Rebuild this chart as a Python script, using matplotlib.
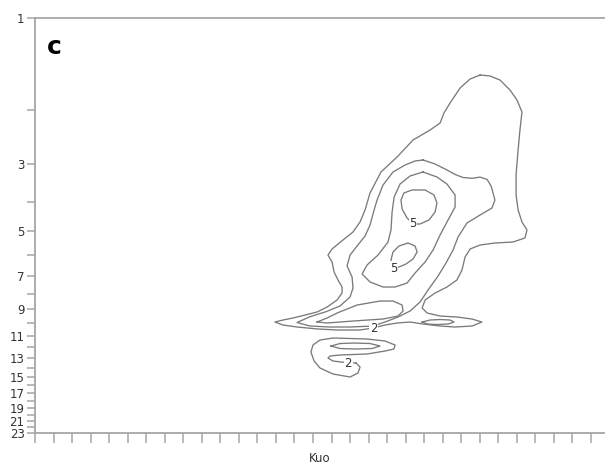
import matplotlib
matplotlib.use("Agg")
import matplotlib.pyplot as plt
import numpy as np
from matplotlib.ticker import FixedLocator, NullFormatter

# contour lines: x in Kuo tick units, y on the log axis
outer_x = [24.02, 24.55, 25.09, 25.63, 26.01, 26.28, 26.17, 26.07, 25.96, 25.96, 26.07, 26.28,
           26.55, 26.44, 25.80, 24.82, 24.02, 23.48, 23.21, 23.04, 22.77, 22.23, 21.59, 21.05,
           20.89, 21.16, 21.86, 22.77, 23.58, 24.12, 23.58, 22.67, 21.86, 20.94, 20.24, 19.54,
           18.89, 18.24, 17.54, 16.30, 15.27, 14.14, 13.38, 12.95, 13.38, 13.92, 14.57, 15.22,
           15.76, 16.30, 16.57, 16.57, 16.35, 16.14, 16.03, 15.81, 16.03, 16.62, 17.16, 17.54,
           17.81, 18.08, 18.67, 19.54, 20.40, 21.32, 21.86, 22.07, 22.40, 22.94, 23.48]
outer_y = [1.535, 1.546, 1.594, 1.719, 1.854, 2.030, 2.326, 2.705, 3.268, 3.800, 4.256, 4.660,
           4.951, 5.259, 5.420, 5.462, 5.545, 5.715, 6.072, 6.698, 7.222, 7.617, 7.970, 8.403,
           8.926, 9.270, 9.483, 9.554, 9.700, 9.921, 10.226, 10.303, 10.226, 10.073, 9.921, 9.997,
           10.149, 10.381, 10.538, 10.538, 10.460, 10.303, 10.149, 9.921, 9.773, 9.627, 9.411, 9.199,
           8.859, 8.403, 7.970, 7.617, 7.222, 6.800, 6.305, 5.983, 5.715, 5.339, 5.026, 4.660,
           4.256, 3.743, 3.194, 2.852, 2.508, 2.326, 2.206, 2.045, 1.896, 1.693, 1.582]

level2_x = [20.94, 21.59, 22.23, 22.70, 23.10, 23.60, 24.02, 24.40, 24.62, 24.82, 24.66, 24.02,
            23.31, 22.83, 22.56, 22.18, 21.75, 21.21, 20.78, 20.24, 19.59, 18.89, 18.24, 17.00,
            15.92, 14.84, 14.14, 14.84, 15.70, 16.46, 17.00, 17.16, 17.11, 16.84, 17.00, 17.38,
            17.81, 18.08, 18.30, 18.46, 18.78, 19.32, 19.97, 20.51]
level2_y = [2.917, 3.007, 3.146, 3.260, 3.330, 3.350, 3.320, 3.380, 3.560, 3.947, 4.193, 4.420,
            4.696, 5.220, 5.760, 6.353, 7.008, 7.791, 8.531, 9.130, 9.554, 9.921, 10.226, 10.303,
            10.303, 10.226, 9.959, 9.532, 9.178, 8.792, 8.214, 7.674, 7.062, 6.498, 5.983, 5.587,
            5.180, 4.767, 4.256, 3.947, 3.524, 3.194, 3.030, 2.939]

level3_x = [20.94, 21.69, 22.23, 22.67, 22.67, 22.29, 21.86, 21.48, 21.05, 20.51, 20.08, 19.43,
            18.78, 18.08, 17.65, 17.92, 18.51, 19.05, 19.21, 19.27, 19.38, 19.70, 20.24]
level3_y = [3.194, 3.317, 3.497, 3.800, 4.161, 4.590, 5.142, 5.760, 6.305, 6.852, 7.389, 7.617,
            7.617, 7.333, 6.903, 6.449, 5.983, 5.420, 4.951, 4.321, 3.858, 3.497, 3.292]

peak_top_x = [20.40, 20.08, 19.81, 19.75, 19.91, 20.35, 21.05, 21.53, 21.69, 21.59, 21.26, 20.78]
peak_top_y = [4.731, 4.522, 4.224, 3.947, 3.743, 3.659, 3.659, 3.800, 4.037, 4.321, 4.590, 4.731]

peak_low_x = [19.32, 19.21, 19.32, 19.64, 20.13, 20.51, 20.62, 20.40, 20.02, 19.64]
peak_low_y = [6.548, 6.210, 5.846, 5.587, 5.462, 5.587, 5.846, 6.163, 6.402, 6.548]

tail3_x = [15.22, 15.76, 16.30, 17.38, 18.62, 19.32, 19.81, 19.86, 19.59, 18.78, 17.16, 15.76]
tail3_y = [9.921, 9.627, 9.270, 8.726, 8.467, 8.467, 8.726, 9.130, 9.483, 9.700, 9.847, 9.997]

tail_right_x = [20.89, 21.32, 21.86, 22.40, 22.61, 22.29, 21.69, 21.16]
tail_right_y = [9.921, 9.773, 9.736, 9.773, 9.921, 10.073, 10.111, 10.073]

low_x = [17.32, 17.54, 17.43, 17.00, 16.08, 15.38, 15.06, 14.89, 15.00, 15.38, 16.08, 17.00,
         17.92, 18.89, 19.43, 19.37, 18.89, 17.92, 16.46, 15.92, 15.81, 16.08, 16.51]
low_y = [13.524, 13.939, 14.585, 15.033, 14.696, 14.043, 13.320, 12.444, 11.804, 11.367, 11.196, 11.238,
         11.281, 11.453, 11.802, 12.168, 12.352, 12.634, 12.730, 12.827, 13.022, 13.320, 13.422]

low_inner_x = [15.97, 16.46, 17.27, 18.08, 18.62, 18.19, 17.27, 16.46]
low_inner_y = [11.894, 11.673, 11.628, 11.673, 11.894, 12.121, 12.168, 12.121]

contour_labels = ["5", "5", "2", "2"]
label_x = [20.41, 19.34, 18.26, 16.91]
label_y = [4.707, 6.614, 10.381, 13.554]

y_major = [1, 3, 5, 7, 9, 11, 13, 15, 17, 19, 21, 23]
y_minor = [2, 4, 6, 8, 10, 12, 14, 16, 18, 20, 22]
x_ticks = list(range(0, 31))

axis_grey = "#a6a6a6"
line_grey = "#7a7a7a"

fig = plt.figure(figsize=(6.05, 4.76), dpi=100)
ax = fig.add_axes([0.0579, 0.0897, 0.9421, 0.8719])

closed = [(outer_x, outer_y), (level2_x, level2_y), (level3_x, level3_y),
          (peak_top_x, peak_top_y), (peak_low_x, peak_low_y), (tail3_x, tail3_y),
          (tail_right_x, tail_right_y), (low_x, low_y), (low_inner_x, low_inner_y)]
for xs, ys in closed:
    ax.plot(xs + xs[:1], ys + ys[:1], color=line_grey, lw=0.95, solid_joinstyle="round")

for txt, lx, ly in zip(contour_labels, label_x, label_y):
    ax.text(lx, ly, txt, ha="center", va="center", fontsize=8.5, color="#333333",
            bbox=dict(boxstyle="square,pad=0.05", fc="white", ec="none"))

ax.set_yscale("log")
ax.set_ylim(23, 1)
ax.set_xlim(0, 30.76)
ax.yaxis.set_major_locator(FixedLocator(y_major))
ax.yaxis.set_minor_locator(FixedLocator(y_minor))
ax.yaxis.set_minor_formatter(NullFormatter())
ax.set_yticklabels([str(v) for v in y_major])
ax.set_xticks(x_ticks)
ax.set_xticklabels([])

ax.spines["right"].set_visible(False)
for side in ["left", "top", "bottom"]:
    ax.spines[side].set_color(axis_grey)
    ax.spines[side].set_linewidth(1.3)

ax.tick_params(axis="y", which="both", direction="out", length=6, width=1.1,
               color=axis_grey, labelsize=8.5, labelcolor="#333333", pad=1.5)
ax.tick_params(axis="x", which="both", direction="out", length=7, width=1.1,
               color=axis_grey)

ax.set_xlabel("Kuo", fontsize=8.5, color="#333333", labelpad=3)
ax.text(0.021, 0.93, "c", transform=ax.transAxes, fontsize=18, fontweight="bold",
        ha="left", va="center")

fig.savefig("out.png", dpi=100)
